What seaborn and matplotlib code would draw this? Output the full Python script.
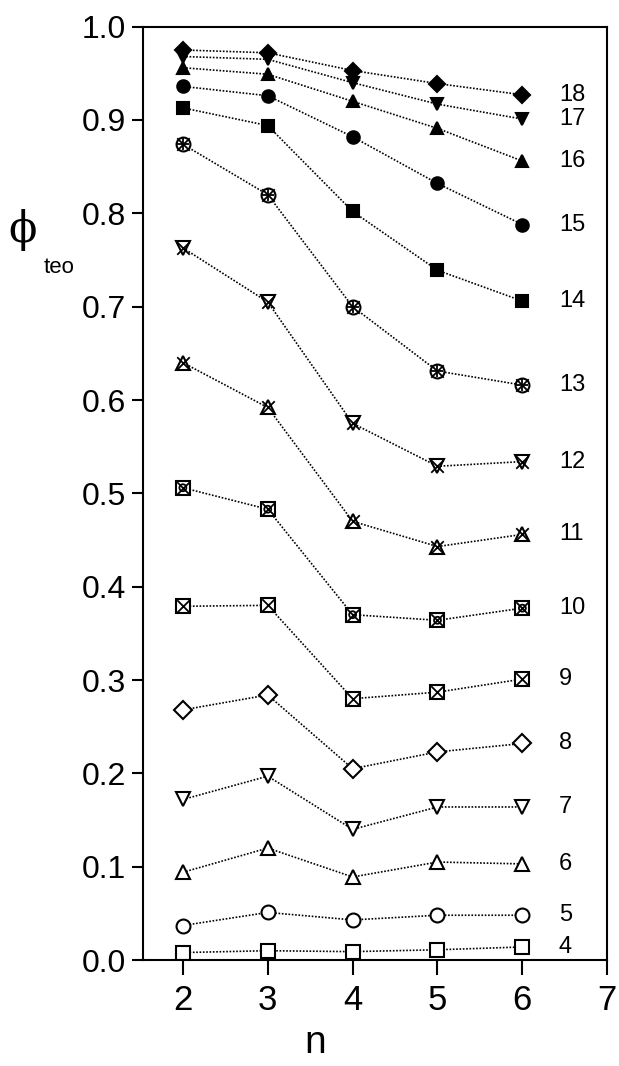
import matplotlib
matplotlib.use("Agg")
import matplotlib.pyplot as plt
import seaborn as sns
import pandas as pd

n_values = [2, 3, 4, 5, 6]
series_labels = [4, 5, 6, 7, 8, 9, 10, 11, 12, 13, 14, 15, 16, 17, 18]
phi_4 = [0.008, 0.010, 0.009, 0.011, 0.014]
phi_5 = [0.037, 0.051, 0.043, 0.048, 0.048]
phi_6 = [0.094, 0.120, 0.089, 0.105, 0.103]
phi_7 = [0.172, 0.197, 0.140, 0.164, 0.164]
phi_8 = [0.268, 0.284, 0.205, 0.223, 0.232]
phi_9 = [0.379, 0.380, 0.280, 0.287, 0.301]
phi_10 = [0.506, 0.483, 0.370, 0.364, 0.377]
phi_11 = [0.640, 0.592, 0.470, 0.443, 0.456]
phi_12 = [0.763, 0.705, 0.575, 0.529, 0.534]
phi_13 = [0.874, 0.820, 0.700, 0.631, 0.616]
phi_14 = [0.913, 0.894, 0.802, 0.739, 0.706]
phi_15 = [0.936, 0.926, 0.882, 0.832, 0.788]
phi_16 = [0.956, 0.949, 0.920, 0.891, 0.856]
phi_17 = [0.968, 0.965, 0.940, 0.917, 0.901]
phi_18 = [0.975, 0.972, 0.953, 0.939, 0.927]
all_phi = [phi_4, phi_5, phi_6, phi_7, phi_8, phi_9, phi_10, phi_11, phi_12,
           phi_13, phi_14, phi_15, phi_16, phi_17, phi_18]
y_ticks = [0.0, 0.1, 0.2, 0.3, 0.4, 0.5, 0.6, 0.7, 0.8, 0.9, 1.0]
x_ticks = [2, 3, 4, 5, 6, 7]

# marker style per series: (main marker, filled?, overlay markers)
styles = {
    4: ("s", False, []),
    5: ("o", False, []),
    6: ("^", False, []),
    7: ("v", False, []),
    8: ("D", False, []),
    9: ("s", False, ["x"]),
    10: ("s", False, ["o", "x"]),
    11: ("^", False, ["x"]),
    12: ("v", False, ["x"]),
    13: ("o", False, ["x", "+"]),
    14: ("s", True, []),
    15: ("o", True, []),
    16: ("^", True, []),
    17: ("v", True, []),
    18: ("D", True, []),
}

sns.set_theme(style="ticks")
plt.rcParams["font.family"] = ["Liberation Sans", "DejaVu Sans"]
plt.rcParams["text.color"] = "black"
plt.rcParams["xtick.color"] = "black"
plt.rcParams["ytick.color"] = "black"
plt.rcParams["axes.labelcolor"] = "black"

fig = plt.figure(figsize=(6.19, 10.66), dpi=100)
ax = fig.add_axes([0.231, 0.0994, 0.750, 0.8756])

for lab, vals in zip(series_labels, all_phi):
    df = pd.DataFrame({"n": n_values, "phi": vals})
    m, filled, overlays = styles[lab]
    ms = 9 if m != "D" else 8
    if not filled:
        ms = 10 if m != "D" else 9
    sns.lineplot(data=df, x="n", y="phi", ax=ax, color="black",
                 linestyle=(0, (1, 1)), linewidth=1.2,
                 marker=m, markersize=ms,
                 markerfacecolor=("black" if filled else "white"),
                 markeredgecolor="black", markeredgewidth=1.5,
                 legend=False, errorbar=None)
    for ov in overlays:
        sz = 5 if ov == "o" else 9
        sns.scatterplot(data=df, x="n", y="phi", ax=ax, marker=ov,
                        s=sz ** 2, color="black",
                        facecolors="none" if ov == "o" else None,
                        edgecolor="black", linewidth=1.3, legend=False, zorder=5)
    ax.text(6.43, vals[-1], str(lab), ha="left", va="center", fontsize=17,
            color="black")

ax.set_xlim(1.53, 7.0)
ax.set_ylim(0.0, 1.0)
ax.set_xticks(x_ticks)
ax.set_yticks(y_ticks)
ax.set_xticklabels([str(v) for v in x_ticks], fontsize=25)
ax.set_yticklabels([f"{v:.1f}" for v in y_ticks], fontsize=23)
ax.tick_params(axis="y", direction="out", length=8, width=1.5, pad=4,
               colors="black")
ax.tick_params(axis="x", direction="out", length=11, width=1.5, pad=6,
               colors="black")
for sp in ax.spines.values():
    sp.set_visible(True)
    sp.set_linewidth(1.5)
    sp.set_color("black")

ax.set_xlabel("n", fontsize=28, color="black")
ax.xaxis.set_label_coords(0.37, -0.07)
ax.set_ylabel("")
fig.text(23 / 619, 1 - 230 / 1066, "ϕ", fontsize=30, ha="center", va="center",
         family=["DejaVu Serif"], color="black")
fig.text(59 / 619, 1 - 267 / 1066, "teo", fontsize=16, ha="center", va="center",
         color="black")

fig.savefig("out.png", dpi=100)
